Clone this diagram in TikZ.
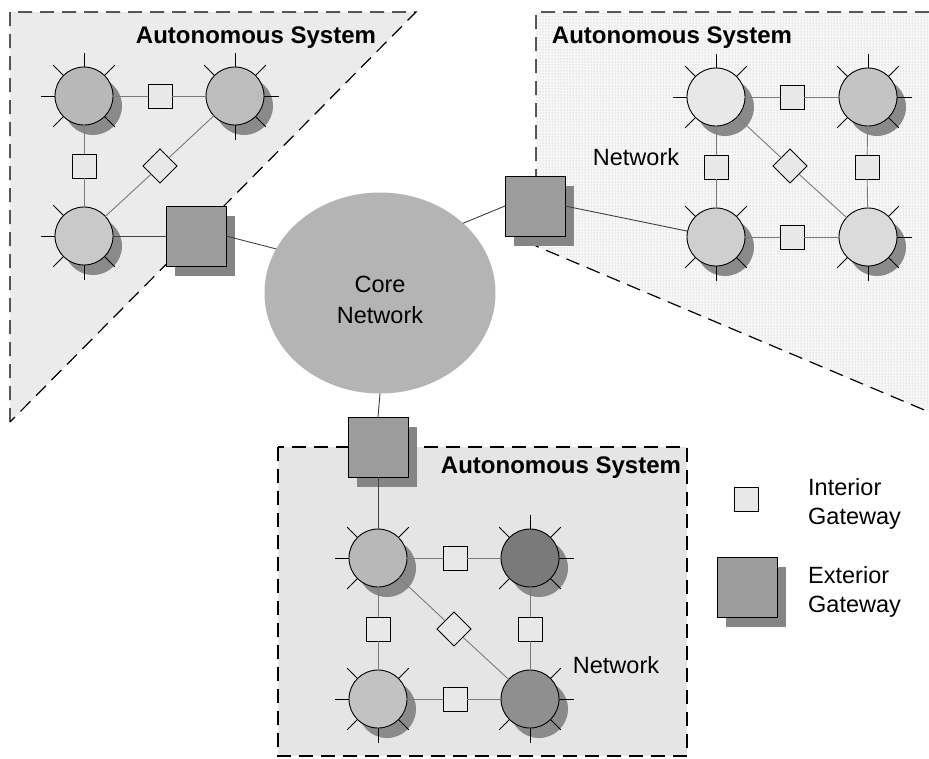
\documentclass[tikz,border=0pt]{standalone}
\usepackage{fontspec}
\setmainfont{Liberation Sans}
\usetikzlibrary{shapes.geometric,shadows,patterns,calc}
\definecolor{bgTL}{HTML}{ECECEC}
\definecolor{bgTR}{HTML}{F7F7F7}
\definecolor{bgB}{HTML}{E5E5E5}
\definecolor{shadowgray}{HTML}{8A8A8A}
\definecolor{egwfill}{HTML}{9C9C9C}
\definecolor{egwshadow}{HTML}{858585}
\definecolor{igwfill}{HTML}{E8E8E8}
\definecolor{corefill}{HTML}{B4B4B4}
\definecolor{linkgray}{HTML}{7A7A7A}
\newcommand\rticks[2]{\foreach \a in {#2} {\draw[tick] (#1.\a) -- ($(#1.center)!1.5!(#1.\a)$);}}
\begin{document}
\begin{tikzpicture}[x=1pt,y=-1pt,
  router/.style={circle, draw=black, line width=0.9pt, minimum size=58pt, inner sep=0pt, outer sep=0pt,
    drop shadow={shadow xshift=9pt, shadow yshift=-10pt, fill=shadowgray, opacity=1}},
  igw/.style={rectangle, draw=black, line width=1pt, fill=igwfill, minimum size=24pt, inner sep=0pt, outer sep=0pt},
  bgw/.style={diamond, draw=black, line width=0.8pt, fill=igwfill, minimum size=34pt, inner sep=0pt, outer sep=0pt},
  egw/.style={rectangle, draw=black, line width=1pt, fill=egwfill, minimum size=60pt, inner sep=0pt, outer sep=0pt,
    drop shadow={shadow xshift=9pt, shadow yshift=-10pt, fill=egwshadow, opacity=1}},
  link/.style={draw=linkgray, line width=0.9pt},
  extlink/.style={draw=black!75, line width=0.9pt},
  tick/.style={draw=black, line width=1pt},
  boundary/.style={draw=black, line width=1.2pt, dash pattern=on 14pt off 8pt},
  astitle/.style={font=\bfseries\fontsize{24}{28}\selectfont, inner sep=0pt},
  lbl/.style={font=\fontsize{23.5}{28.5}\selectfont, align=left, inner sep=0pt},
  cfill/.style={fill=#1}]
\useasboundingbox[fill=white] (0,0) rectangle (929,758);

% ---------- Autonomous system regions ----------
\fill[bgTL] (10,12) -- (416,12) -- (10,422) -- cycle;
\fill[pattern=dots, pattern color=black!12] (10,12) -- (416,12) -- (10,422) -- cycle;
\draw[boundary] (10,422) -- (10,12) -- (416,12) -- cycle;

\fill[bgTR] (536,12) -- (929,12) -- (929,412) -- (536,246) -- cycle;
\fill[pattern=dots, pattern color=black!28] (536,12) -- (929,12) -- (929,412) -- (536,246) -- cycle;
\draw[boundary] (929,12) -- (536,12) -- (536,246) -- (929,412);

\fill[bgB] (278,447) rectangle (687,756);
\fill[pattern=dots, pattern color=black!10] (278,447) rectangle (687,756);
\draw[boundary] (278,447) rectangle (687,756);

% ---------- Core network ----------
\node[ellipse, fill=corefill, minimum width=231pt, minimum height=201pt, inner sep=0pt, outer sep=0pt,
  font=\fontsize{23.5}{31}\selectfont] (core) at (380,293) {\parbox{4cm}{\centering\vspace*{14pt}Core\\Network}};

% ---------- Top-left AS ----------
\node[router, cfill=black!28] (a1) at (84,96) {};
\node[router, cfill=black!26] (a2) at (235,96) {};
\node[router, cfill=black!21] (a3) at (84,236) {};
\node[igw] (ai1) at (160,96) {};
\node[igw] (ai2) at (84,166) {};
\node[bgw] (ad) at (160,166) {};
\node[egw] (ag) at (196,236) {};
\node[astitle] (at) at (256,38) {Autonomous System};

% ---------- Top-right AS ----------
\node[router, cfill=black!9] (b1) at (716,97) {};
\node[router, cfill=black!23] (b2) at (868,97) {};
\node[router, cfill=black!19] (b3) at (716,237) {};
\node[router, cfill=black!14] (b4) at (868,237) {};
\node[igw] (bi1) at (792,97) {};
\node[igw] (bi2) at (716,167) {};
\node[igw] (bi3) at (867,167) {};
\node[igw] (bi4) at (792,237) {};
\node[bgw] (bd) at (790,166) {};
\node[egw] (bg) at (535,206) {};
\node[astitle] (bt) at (672,38) {Autonomous System};
\node[lbl] (bn) at (636,157) {Network};

% ---------- Bottom AS ----------
\node[router, cfill=black!28] (c1) at (378,558) {};
\node[router, cfill=black!52] (c2) at (530,558) {};
\node[router, cfill=black!24] (c3) at (378,699) {};
\node[router, cfill=black!44] (c4) at (530,699) {};
\node[igw] (ci1) at (455,558) {};
\node[igw] (ci2) at (378,629) {};
\node[igw] (ci3) at (530,629) {};
\node[igw] (ci4) at (455,699) {};
\node[bgw] (cd) at (454,629) {};
\node[egw] (cg) at (378,447) {};
\node[astitle] (ct) at (561,468) {Autonomous System};
\node[lbl] (cn) at (616,665) {Network};

% ---------- Legend ----------
\node[igw] (li) at (746,499) {};
\node[egw] (le) at (747,587) {};
\node[lbl, anchor=west] (lit) at (808,504) {Interior\\Gateway};
\node[lbl, anchor=west] (let) at (808,592) {Exterior\\Gateway};

% ---------- Links ----------
\draw[link] (a1) -- (ai1) -- (a2);
\draw[link] (a1) -- (ai2) -- (a3);
\draw[link] (a3) -- (ad) -- (a2);
\draw[extlink] (a3) -- (ag);
\draw[extlink] (ag.east) -- (core.157);

\draw[link] (b1) -- (bi1) -- (b2);
\draw[link] (b3) -- (bi4) -- (b4);
\draw[link] (b1) -- (bi2) -- (b3);
\draw[link] (b2) -- (bi3) -- (b4);
\draw[link] (b1) -- (bd) -- (b4);
\draw[extlink] (bg.east) -- (b3);
\draw[extlink] (bg.west) -- (core.40);

\draw[link] (c1) -- (ci1) -- (c2);
\draw[link] (c3) -- (ci4) -- (c4);
\draw[link] (c1) -- (ci2) -- (c3);
\draw[link] (c2) -- (ci3) -- (c4);
\draw[link] (c1) -- (cd) -- (c4);
\draw[extlink] (core.south) -- (cg.north);
\draw[extlink] (cg.south) -- (c1.north);

% ---------- Ticks ----------
\rticks{a1}{90,135,180,225,315,45}
\rticks{a2}{90,45,135,0,270,315}
\rticks{a3}{135,180,225,270,315}
\rticks{b1}{90,45,135,180,225}
\rticks{b2}{90,45,135,0,225,315}
\rticks{b3}{45,135,225,270,315}
\rticks{b4}{45,0,225,270,315}
\rticks{c1}{45,135,180,225}
\rticks{c2}{90,45,135,0,225,315}
\rticks{c3}{135,45,180,225,270,315}
\rticks{c4}{45,0,225,270,315}
\end{tikzpicture}
\end{document}
